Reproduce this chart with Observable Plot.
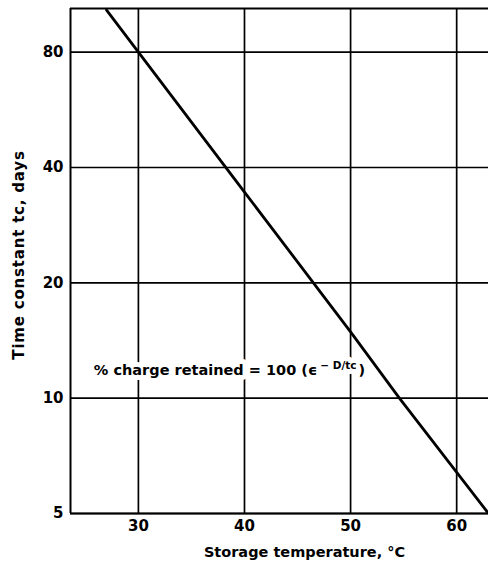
<!DOCTYPE html>
<html>
<head>
<meta charset="utf-8">
<script src="https://cdn.jsdelivr.net/npm/d3@7"></script>
<script src="https://cdn.jsdelivr.net/npm/@observablehq/plot@0.6"></script>
<style>
  html, body { margin: 0; padding: 0; background: #fff; }
</style>
</head>
<body>
<div id="chart"></div>
<script>
// Data
const temperatures = [27, 30, 40, 50, 54.6, 63];          // °C
const timeConstants = [103, 80, 34.5, 14.9, 10, 5];       // days (log scale)
const xTicks = [30, 40, 50, 60];
const yTicks = [5, 10, 20, 40, 80];
const xDomain = [23.6, 63];
const yDomain = [5, 104];
const xLabel = "Storage temperature, °C";
const yLabel = "Time constant tc, days";
const note = { t: 25.8, tc: 11.8, main: "% charge retained = 100 (ϵ", sup: "− D/tc", tail: ")" };

const line = temperatures.map((t, i) => ({ t, tc: timeConstants[i] }));
const font = "'DejaVu Sans', 'Liberation Sans', Arial, sans-serif";

const plot = Plot.plot({
  width: 488,
  height: 567,
  marginLeft: 70,
  marginTop: 8,
  marginBottom: 54,
  marginRight: 0,
  style: { fontFamily: font, fontSize: "15px", fontWeight: "bold", background: "#fff", color: "#000" },
  x: { domain: xDomain, axis: null },
  y: { type: "log", domain: yDomain, axis: null },
  marks: [
    Plot.ruleX(xTicks, { stroke: "#000", strokeWidth: 1.7 }),
    Plot.ruleY(yTicks, { stroke: "#000", strokeWidth: 1.7 }),
    Plot.ruleX([xDomain[0]], { stroke: "#000", strokeWidth: 2 }),
    Plot.ruleY([yDomain[1]], { stroke: "#000", strokeWidth: 2 }),
    Plot.ruleY([yDomain[0]], { stroke: "#000", strokeWidth: 2.2 }),
    // tick labels
    Plot.text(yTicks, { y: d => d, frameAnchor: "left", text: d => String(d), textAnchor: "end", dx: -7, fontSize: 15, fill: "#000" }),
    Plot.text(xTicks, { x: d => d, frameAnchor: "bottom", text: d => String(d), dy: 17, fontSize: 15, fill: "#000" }),
    // annotation: halo then text
    Plot.text([note], { x: "t", y: "tc", text: d => d.main, textAnchor: "start", fontSize: 14.5, fill: "#fff", stroke: "#fff", strokeWidth: 10 }),
    Plot.text([note], { x: "t", y: "tc", text: d => d.main, textAnchor: "start", fontSize: 14.5, fill: "#000" }),
    Plot.line(line, { x: "t", y: "tc", stroke: "#000", strokeWidth: 2.8, clip: true }),
    // axis titles
    Plot.text([xLabel], { frameAnchor: "bottom", textAnchor: "middle", dx: 25, dy: 43, fontSize: 14.5, fill: "#000" }),
    Plot.text([yLabel], { frameAnchor: "left", textAnchor: "middle", rotate: -90, dx: -51, dy: -6, fontSize: 15, fill: "#000", letterSpacing: "0.8px" })
  ]
});

// Add the superscript exponent to the annotation (both halo and text copies)
d3.select(plot).selectAll("text").each(function() {
  if (this.textContent === note.main) {
    const el = d3.select(this);
    el.text(note.main);
    el.append("tspan").attr("dy", "-6").attr("dx", "3").attr("font-size", 10.5).text(note.sup);
    el.append("tspan").attr("dy", "6").attr("dx", "2").text(note.tail);
  }
  if (this.textContent === yLabel) {
    this.style.letterSpacing = "0.8px";
  }
});

document.getElementById("chart").appendChild(plot);
</script>
</body>
</html>
